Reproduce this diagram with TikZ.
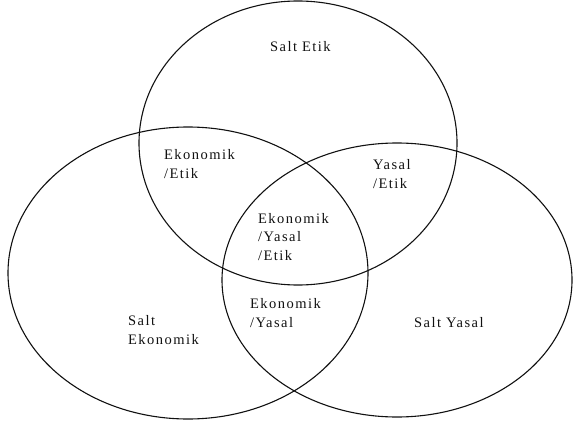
\documentclass[tikz,border=0pt]{standalone}
\usepackage{fontspec}
\setmainfont{Liberation Serif}[LetterSpace=10]
\usepackage{tikz}
\usetikzlibrary{positioning}
\definecolor{ink}{HTML}{111111}
\tikzset{ring/.style={draw=ink,line width=1.1pt},
  lbl/.style={text=ink,align=left,inner sep=0pt,anchor=west,
    font=\fontsize{14.5}{18.5}\selectfont}}
\begin{document}
\begin{tikzpicture}[x=1pt,y=-1pt]
\useasboundingbox (0,0) rectangle (573,425);
\coordinate (etik) at (298,143);
\coordinate (eko) at (188,273);
\coordinate (yas) at (397,280);
\draw[ring] (etik) ellipse [x radius=159pt,y radius=142pt];
\draw[ring] (eko) ellipse [x radius=180pt,y radius=146pt];
\draw[ring] (yas) ellipse [x radius=175pt,y radius=137pt];
\node[lbl] (se) at (270,47) {Salt Etik};
\node[lbl] (ee) at (164,164) {Ekonomik\\/Etik};
\node[lbl] (ye) at (373,174) {Yasal\\/Etik};
\node[lbl] (eye) at (258,237) {Ekonomik\\/Yasal\\/Etik};
\node[lbl] (ey) at (250,313) {Ekonomik\\/Yasal};
\node[lbl] (sek) at (128,330) {Salt\\Ekonomik};
\node[lbl] (sy) at (414,323) {Salt Yasal};
\end{tikzpicture}
\end{document}
